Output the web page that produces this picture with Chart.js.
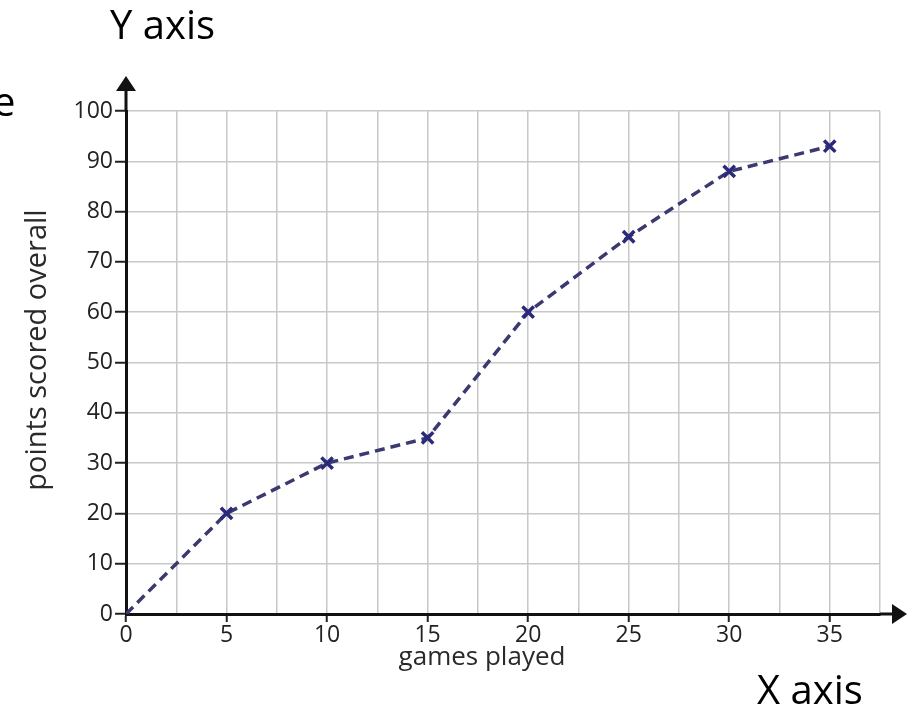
<!DOCTYPE html>
<html>
<head>
<meta charset="utf-8">
<script src="https://cdn.jsdelivr.net/npm/chart.js@4"></script>
<style>
  html, body { margin: 0; padding: 0; background: #fff; }
  #wrap { position: relative; width: 907px; height: 709px; overflow: hidden; }
  .note { position: absolute; font-family: "Open Sans", sans-serif; font-size: 40px; line-height: 40px; color: #000; white-space: nowrap; }
</style>
</head>
<body>
<div id="wrap">
  <canvas id="gamesChart" width="907" height="709"></canvas>
  <div class="note" style="left:110px; top:4px;">Y axis</div>
  <div class="note" style="left:-7px; top:81px;">e</div>
  <div class="note" style="left:757px; top:669px;">X axis</div>
</div>
<script>
// Data
const gamesPlayed = [0, 5, 10, 15, 20, 25, 30, 35];
const pointsScored = [0, 20, 30, 35, 60, 75, 88, 93];
const xTickStep = 2.5;
const yTickStep = 10;
const xTitle = 'games played';
const yTitle = 'points scored overall';

const tickFont = { family: 'Open Sans', size: 23 };

// axis arrows and the two axis titles
const axisExtras = {
    id: 'axisExtras',
    afterDraw(chart) {
        const { ctx, chartArea } = chart;
        const x0 = chart.scales.x.getPixelForValue(0);
        const y0 = chart.scales.y.getPixelForValue(0);
        ctx.save();
        ctx.strokeStyle = '#111';
        ctx.fillStyle = '#111';
        ctx.lineWidth = 3;
        ctx.beginPath();
        ctx.moveTo(x0, chartArea.top);
        ctx.lineTo(x0, 88);
        ctx.moveTo(chartArea.right, y0);
        ctx.lineTo(894, y0);
        ctx.stroke();
        ctx.beginPath();
        ctx.moveTo(x0, 76);
        ctx.lineTo(x0 - 10, 91);
        ctx.lineTo(x0 + 10, 91);
        ctx.closePath();
        ctx.fill();
        ctx.beginPath();
        ctx.moveTo(907, y0);
        ctx.lineTo(892, y0 - 10);
        ctx.lineTo(892, y0 + 10);
        ctx.closePath();
        ctx.fill();

        // titles
        ctx.fillStyle = '#2a2a2a';
        ctx.font = '26px "Open Sans"';
        ctx.textAlign = 'center';
        ctx.textBaseline = 'middle';
        ctx.fillText(xTitle, 482, 658);
        ctx.translate(38, 350);
        ctx.rotate(-Math.PI / 2);
        ctx.font = '29px "Open Sans"';
        ctx.fillText(yTitle, 0, 0);
        ctx.restore();
    }
};

const ctx = document.getElementById('gamesChart').getContext('2d');

const gamesChart = new Chart(ctx, {
    type: 'line',
    data: {
        datasets: [{
            label: yTitle,
            data: gamesPlayed.map((g, i) => ({ x: g, y: pointsScored[i] })),
            borderColor: '#3b3a70',
            borderWidth: 3.5,
            borderDash: [10, 6],
            tension: 0,
            fill: false,
            pointStyle: 'crossRot',
            pointRadius: c => c.dataIndex === 0 ? 0 : 8,
            pointHoverRadius: 8,
            pointBorderWidth: 3.5,
            pointBorderColor: '#2b2a7a',
            pointBackgroundColor: '#2b2a7a'
        }]
    },
    options: {
        responsive: false,
        animation: false,
        layout: { padding: { top: 111, right: 27, bottom: 55, left: 0 } },
        plugins: {
            legend: { display: false },
            tooltip: { enabled: false }
        },
        scales: {
            x: {
                type: 'linear',
                min: 0,
                max: 37.5,
                afterFit: scale => { scale.height = 40; },
                border: { color: '#111', width: 3 },
                grid: {
                    color: '#c8c8c8',
                    lineWidth: 1.5,
                    tickLength: 8,
                    tickWidth: 2,
                    tickColor: c => c.tick && c.tick.value % 5 === 0 ? '#222' : 'rgba(0,0,0,0)'
                },
                ticks: {
                    stepSize: xTickStep,
                    autoSkip: false,
                    maxRotation: 0,
                    padding: 0,
                    color: '#222',
                    font: tickFont,
                    callback: v => v % 5 === 0 ? v : ''
                }
            },
            y: {
                min: 0,
                max: 100,
                afterFit: scale => { scale.width = 126; },
                border: { color: '#111', width: 3 },
                grid: {
                    color: '#c8c8c8',
                    lineWidth: 1.5,
                    tickLength: 11,
                    tickWidth: 2,
                    tickColor: '#222'
                },
                ticks: {
                    stepSize: yTickStep,
                    padding: 2,
                    color: '#222',
                    font: tickFont
                }
            }
        }
    },
    plugins: [axisExtras]
});
</script>
</body>
</html>
